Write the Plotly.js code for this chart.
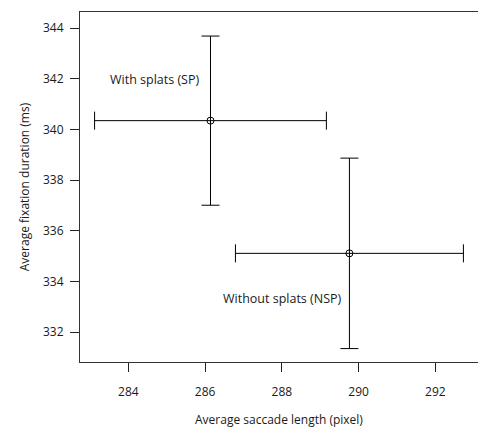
<!DOCTYPE html>
<html>
<head>
<meta charset="utf-8">
<script src="https://cdn.plot.ly/plotly-3.0.1.min.js"></script>
<style>html,body{margin:0;padding:0;background:#fff;}#chart{width:478px;height:427px;}</style>
</head>
<body>
<div id="chart"></div>
<script>
const groups = ["With splats (SP)", "Without splats (NSP)"];
const saccadeLength = [286.14, 289.76];
const saccadeErr = [3.02, 2.97];
const fixationDuration = [340.35, 335.11];
const fixationErr = [3.34, 3.76];
const labelX = [284.68, 288.01];
const labelY = [341.97, 333.33];
const xTicks = [284, 286, 288, 290, 292];
const yTicks = [332, 334, 336, 338, 340, 342, 344];
const xTitle = "Average saccade length (pixel)";
const yTitle = "Average fixation duration (ms)";

const font = {family: "Open Sans, Noto Sans, sans-serif", size: 12, color: "#1a1a1a"};
const annFont = {family: "Open Sans, Noto Sans, sans-serif", size: 12.5, color: "#1a1a1a"};

const trace = {
  type: "scatter",
  mode: "markers",
  x: saccadeLength,
  y: fixationDuration,
  text: groups,
  marker: {symbol: "circle-open", size: 7, color: "#000", line: {width: 1, color: "#000"}},
  error_x: {type: "data", array: saccadeErr, visible: true, color: "#000", thickness: 1, width: 9},
  error_y: {type: "data", array: fixationErr, visible: true, color: "#000", thickness: 1, width: 9},
  showlegend: false,
  hoverinfo: "x+y+text"
};

const annotations = groups.map((g, i) => ({
  x: labelX[i], y: labelY[i], xref: "x", yref: "y",
  text: g, showarrow: false, font: annFont,
  xanchor: "center", yanchor: "middle"
}));
annotations.push({
  x: 0.5, y: -0.19, xref: "paper", yref: "paper",
  text: xTitle, showarrow: false, font: font,
  xanchor: "center", yanchor: "bottom", borderpad: 0
});

const layout = {
  width: 478, height: 427,
  margin: {l: 80, r: 0, t: 12, b: 65},
  paper_bgcolor: "#fff", plot_bgcolor: "#fff",
  font: font,
  xaxis: {
    range: [282.74, 293.11],
    tickvals: xTicks, ticktext: xTicks.map(String),
    ticks: "outside", ticklen: 9, tickwidth: 1, tickcolor: "#222",
    ticklabelstandoff: 10,
    showline: true, linecolor: "#333", linewidth: 1, mirror: true,
    showgrid: false, zeroline: false,
    tickfont: font
  },
  yaxis: {
    range: [330.82, 344.64],
    tickvals: yTicks, ticktext: yTicks.map(String),
    ticks: "outside", ticklen: 9, tickwidth: 1, tickcolor: "#222",
    ticklabelstandoff: 4,
    showline: true, linecolor: "#333", linewidth: 1,
    showgrid: false, zeroline: false,
    tickfont: font,
    title: {text: yTitle, font: font, standoff: 10}
  },
  annotations: annotations
};

Plotly.newPlot("chart", [trace], layout, {displayModeBar: false, staticPlot: true});
</script>
</body>
</html>
